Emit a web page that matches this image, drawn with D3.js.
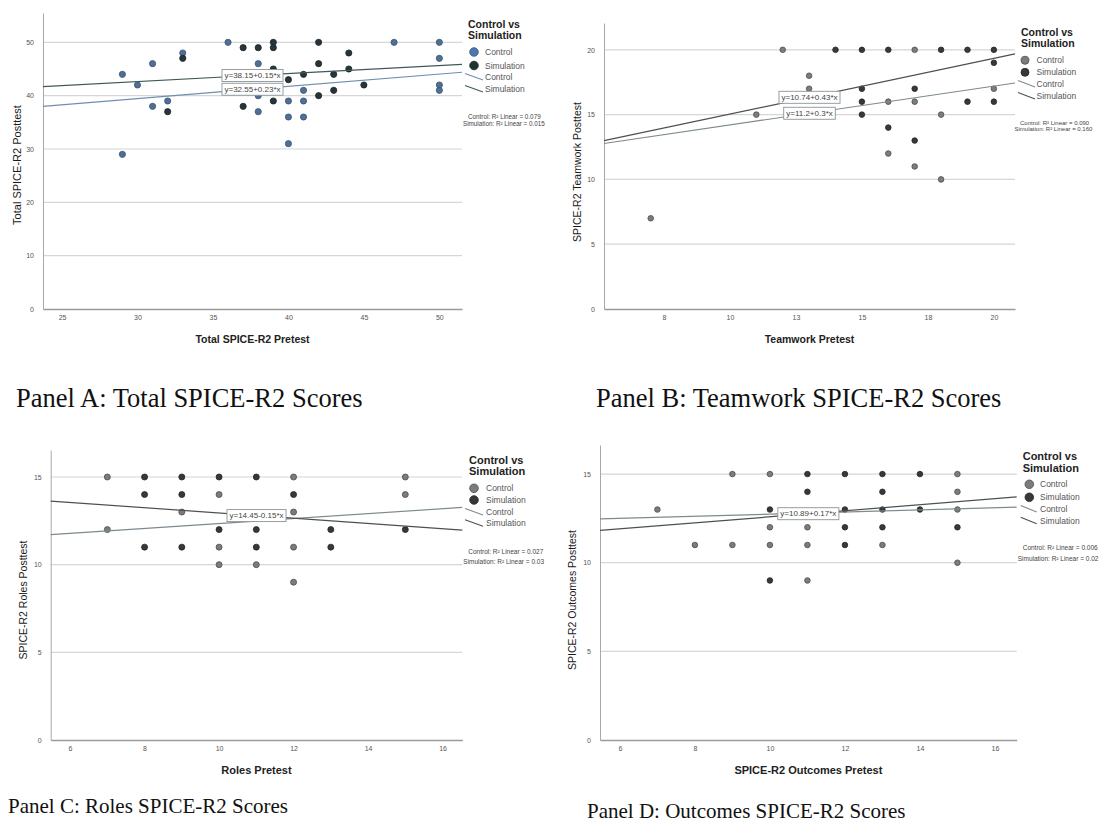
<!DOCTYPE html>
<html>
<head>
<meta charset="utf-8">
<script src="https://cdn.jsdelivr.net/npm/d3@7"></script>
<style>
  body { margin: 0; background: #fff; }
  svg text { font-family: "Liberation Sans", Arial, sans-serif; }
  svg text.caption { font-family: "Liberation Serif", "Times New Roman", serif; }
</style>
</head>
<body>
<div id="chart"></div>
<script>
// ---- data: [pretest, posttest] ----
const aControl = [[29,44],[29,29],[30,42],[31,46],[31,38],[32,39],[33,48],[36,50],[38,46],[38,40],[38,37],
  [40,39],[40,36],[40,31],[41,41],[41,39],[41,36],[47,50],[50,50],[50,47],[50,42],[50,41]];
const aSimulation = [[32,37],[33,47],[37,49],[37,38],[38,49],[39,50],[39,49],[39,45],[39,39],[40,43],
  [41,44],[42,50],[42,46],[42,40],[43,44],[43,41],[44,48],[44,45],[45,42]];

const bControl = [[7,7],[11,15],[12,20],[13,18],[13,17],[17,20],[16,16],[17,16],[20,17],[18,15],[16,12],[17,11],[18,10]];
const bSimulation = [[14,20],[15,20],[16,20],[18,20],[19,20],[20,20],[20,19],[15,17],[17,17],[15,16],
  [19,16],[20,16],[15,15],[16,14],[17,13]];

const cControl = [[7,15],[7,12],[9,13],[10,14],[10,11],[10,10],[11,10],[12,15],[12,13],[12,11],[12,9],[15,15],[15,14]];
const cSimulation = [[8,15],[8,14],[8,11],[9,15],[9,14],[9,11],[10,15],[10,12],[11,15],[11,12],[11,11],
  [12,14],[13,12],[13,11],[15,12]];

const dControl = [[7,13],[8,11],[9,15],[9,11],[10,15],[10,12],[10,11],[11,12],[11,11],[11,9],[13,11],
  [15,15],[15,14],[15,13],[15,10]];
const dSimulation = [[10,13],[10,9],[11,15],[11,14],[12,15],[12,13],[12,12],[12,11],[13,15],[13,14],
  [13,13],[13,12],[14,15],[14,13],[15,12]];

// fit lines: [intercept, slope]
const aFit = { control: [32.55, 0.23], simulation: [38.15, 0.15] };
const bFit = { control: [11.2, 0.3], simulation: [10.74, 0.43] };
const cFit = { control: [10.95, 0.14], simulation: [14.45, -0.15] };
const dFit = { control: [12.14, 0.06], simulation: [10.89, 0.17] };

// equation labels that are visible on each plot
const aLabels = [["simulation", "y=38.15+0.15*x"], ["control", "y=32.55+0.23*x"]];
const bLabels = [["simulation", "y=10.74+0.43*x"], ["control", "y=11.2+0.3*x"]];
const cLabels = [["simulation", "y=14.45-0.15*x"]];
const dLabels = [["simulation", "y=10.89+0.17*x"]];

const aR2 = ["Control: R\u00b2 Linear = 0.079", "Simulation: R\u00b2 Linear = 0.015"];
const bR2 = ["Control: R\u00b2 Linear = 0.090", "Simulation: R\u00b2 Linear = 0.160"];
const cR2 = ["Control: R\u00b2 Linear = 0.027", "Simulation: R\u00b2 Linear = 0.03"];
const dR2 = ["Control: R\u00b2 Linear = 0.006", "Simulation: R\u00b2 Linear = 0.02"];

// ticks
const aXTicks = [25, 30, 35, 40, 45, 50];
const aYTicks = [0, 10, 20, 30, 40, 50];
const bXTicks = [7.5, 10, 12.5, 15, 17.5, 20];
const bXTickLabels = ["8", "10", "13", "15", "18", "20"];
const bYTicks = [0, 5, 10, 15, 20];
const cdXTicks = [6, 8, 10, 12, 14, 16];
const cdYTicks = [0, 5, 10, 15];

const legendTitle = ["Control vs", "Simulation"];
const groupNames = ["Control", "Simulation"];

const svg = d3.select("#chart").append("svg")
  .attr("width", 1116)
  .attr("height", 833);

const defs = svg.append("defs");

function drawPanel(p) {
  defs.append("clipPath").attr("id", "clip" + p.id)
    .append("rect").attr("x", p.clip[0]).attr("y", p.clip[1]).attr("width", p.clip[2]).attr("height", p.clip[3]);
  const g = svg.append("g").attr("clip-path", `url(#clip${p.id})`);

  const x = d3.scaleLinear().domain(p.xDomain).range([p.left, p.right]);
  const y = d3.scaleLinear().domain(p.yDomain).range([p.bottom, p.top]);

  // grid
  g.append("g").selectAll("line")
    .data(p.yTicks.filter(d => d > 0))
    .join("line")
    .attr("x1", p.left).attr("x2", p.right)
    .attr("y1", d => y(d)).attr("y2", d => y(d))
    .attr("stroke", "#d6d6d6").attr("stroke-width", 1.2);

  // axes
  const yAxis = d3.axisLeft(y).tickValues(p.yTicks).tickSize(0).tickSizeOuter(0).tickPadding(9);
  const yg = g.append("g").attr("transform", `translate(${p.left},0)`).call(yAxis);
  yg.select(".domain").attr("stroke", "#a8a8a8");
  yg.selectAll("text").attr("font-size", 7).attr("fill", "#555");

  const xAxis = d3.axisBottom(x).tickValues(p.xTicks).tickSize(0).tickSizeOuter(0).tickPadding(6)
    .tickFormat((d, i) => p.xTickLabels ? p.xTickLabels[i] : d);
  const xg = g.append("g").attr("transform", `translate(0,${p.bottom})`).call(xAxis);
  xg.select(".domain").attr("stroke", "#9a9a9a").attr("stroke-width", 1.6);
  xg.selectAll("text").attr("font-size", 7).attr("fill", "#555");

  // points
  g.append("g").selectAll("circle")
    .data(p.control)
    .join("circle")
    .attr("cx", d => x(d[0])).attr("cy", d => y(d[1])).attr("r", p.r)
    .attr("fill", p.colors.control).attr("stroke", p.colors.controlStroke).attr("stroke-width", 0.8);
  g.append("g").selectAll("circle")
    .data(p.simulation)
    .join("circle")
    .attr("cx", d => x(d[0])).attr("cy", d => y(d[1])).attr("r", p.r)
    .attr("fill", p.colors.simulation).attr("stroke", p.colors.simulationStroke).attr("stroke-width", 0.8);

  // fit lines
  ["control", "simulation"].forEach(k => {
    const c = p.fit[k];
    g.append("path")
      .datum(p.xDomain)
      .attr("d", d3.line().x(d => x(d)).y(d => y(c[0] + c[1] * d)))
      .attr("fill", "none")
      .attr("stroke", p.colors[k + "Line"])
      .attr("stroke-width", 1.2);
  });

  // equation boxes at the middle of the x range
  const xm = (p.xDomain[0] + p.xDomain[1]) / 2;
  p.labels.forEach(([k, txt]) => {
    const c = p.fit[k];
    const cx = x(xm), cy = y(c[0] + c[1] * xm);
    const lg = g.append("g");
    const t = lg.append("text")
      .attr("x", cx).attr("y", cy)
      .attr("text-anchor", "middle").attr("dominant-baseline", "central")
      .attr("font-size", 8).attr("fill", "#444")
      .text(txt);
    const bb = t.node().getBBox();
    lg.insert("rect", "text")
      .attr("x", bb.x - 2.5).attr("y", cy - 6)
      .attr("width", bb.width + 5).attr("height", 12)
      .attr("fill", "#fff").attr("stroke", "#8a9498").attr("stroke-width", 0.9);
  });

  // legend
  const L = p.legend;
  g.append("g").selectAll("text")
    .data(legendTitle)
    .join("text")
    .attr("x", L.titleX).attr("y", (d, i) => L.titleY[i])
    .attr("dominant-baseline", "central")
    .attr("font-size", L.titleSize).attr("font-weight", "bold").attr("fill", "#222")
    .text(d => d);
  const markColors = [p.colors.legendControl, p.colors.legendSimulation];
  const markStrokes = [p.colors.controlStroke, p.colors.simulationStroke];
  g.append("g").selectAll("circle")
    .data(groupNames)
    .join("circle")
    .attr("cx", L.markX).attr("cy", (d, i) => L.markY[i]).attr("r", L.markR)
    .attr("fill", (d, i) => markColors[i]).attr("stroke", (d, i) => markStrokes[i]).attr("stroke-width", 0.8);
  g.append("g").selectAll("text")
    .data(groupNames)
    .join("text")
    .attr("x", L.textX).attr("y", (d, i) => L.markY[i])
    .attr("dominant-baseline", "central")
    .attr("font-size", L.itemSize).attr("fill", "#555")
    .text(d => d);
  const lineColors = [p.colors.controlLine, p.colors.simulationLine];
  g.append("g").selectAll("line")
    .data(groupNames)
    .join("line")
    .attr("x1", L.lineX[0]).attr("x2", L.lineX[1])
    .attr("y1", (d, i) => L.lineY[i] - 3.5).attr("y2", (d, i) => L.lineY[i] + 3)
    .attr("stroke", (d, i) => lineColors[i]).attr("stroke-width", 1.1);
  g.append("g").selectAll("text")
    .data(groupNames)
    .join("text")
    .attr("x", L.lineTextX).attr("y", (d, i) => L.lineY[i])
    .attr("dominant-baseline", "central")
    .attr("font-size", L.itemSize).attr("fill", "#555")
    .text(d => d);

  // R squared notes
  g.append("g").selectAll("text")
    .data(p.r2)
    .join("text")
    .attr("x", (d, i) => p.r2Pos.x[i]).attr("y", (d, i) => p.r2Pos.y[i])
    .attr("dominant-baseline", "central")
    .attr("font-size", p.r2Pos.size).attr("fill", "#444")
    .text(d => d);

  // axis titles
  g.append("text")
    .attr("x", (p.left + p.right) / 2).attr("y", p.xTitleY)
    .attr("text-anchor", "middle").attr("dominant-baseline", "central")
    .attr("font-size", p.xTitleSize).attr("font-weight", "bold").attr("fill", "#222")
    .text(p.xTitle);
  g.append("text")
    .attr("transform", `translate(${p.yTitleX},${p.yTitleY}) rotate(-90)`)
    .attr("text-anchor", "middle").attr("dominant-baseline", "central")
    .attr("font-size", p.yTitleSize).attr("fill", "#1a1a1a")
    .text(p.yTitle);

  // panel caption
  svg.append("text")
    .attr("class", "caption")
    .attr("x", p.caption[0]).attr("y", p.caption[1])
    .attr("font-size", p.captionSize).attr("fill", "#111")
    .text(p.caption[2]);
}

const blueColors = {
  control: "#4f6f97", controlStroke: "#3b5474",
  simulation: "#27343a", simulationStroke: "#1c262a",
  legendControl: "#4a78b3", legendSimulation: "#1f3530",
  controlLine: "#6f8fb0", simulationLine: "#41575a"
};
const grayColors = {
  control: "#7c7c7c", controlStroke: "#4d4d4d",
  simulation: "#383838", simulationStroke: "#262626",
  legendControl: "#7c7c7c", legendSimulation: "#383838",
  controlLine: "#7d8a90", simulationLine: "#4f4f4f"
};

drawPanel({
  id: "A", clip: [0, 0, 556, 380],
  left: 43, right: 462, top: 13, bottom: 309,
  xDomain: [23.74, 51.5], yDomain: [0, 55.5],
  xTicks: aXTicks, yTicks: aYTicks,
  control: aControl, simulation: aSimulation, fit: aFit, labels: aLabels, r2: aR2,
  r: 3.1, colors: blueColors,
  legend: { titleX: 468, titleY: [24, 35], titleSize: 10.5, markX: 474, markY: [52, 65.5], markR: 4.3,
    textX: 485, lineX: [465, 483], lineY: [77, 89], lineTextX: 485, itemSize: 8.5 },
  r2Pos: { x: [468, 463], y: [116.5, 123.8], size: 6.3 },
  xTitle: "Total SPICE-R2 Pretest", xTitleY: 339, xTitleSize: 10.5,
  yTitle: "Total SPICE-R2 Posttest", yTitleX: 17, yTitleY: 165, yTitleSize: 11,
  caption: [16, 407, "Panel A: Total SPICE-R2 Scores"], captionSize: 26.5
});

drawPanel({
  id: "B", clip: [556, 0, 560, 380],
  left: 604, right: 1015, top: 23, bottom: 309,
  xDomain: [5.23, 20.8], yDomain: [0, 22.07],
  xTicks: bXTicks, xTickLabels: bXTickLabels, yTicks: bYTicks,
  control: bControl, simulation: bSimulation, fit: bFit, labels: bLabels, r2: bR2,
  r: 2.8, colors: grayColors,
  legend: { titleX: 1021, titleY: [32, 43.3], titleSize: 10.5, markX: 1025, markY: [60.3, 72.3], markR: 4,
    textX: 1036.5, lineX: [1018, 1035], lineY: [84, 96], lineTextX: 1036.5, itemSize: 8.5 },
  r2Pos: { x: [1020, 1014.5], y: [122.7, 129], size: 6 },
  xTitle: "Teamwork Pretest", xTitleY: 339, xTitleSize: 10.5,
  yTitle: "SPICE-R2 Teamwork Posttest", yTitleX: 577, yTitleY: 172, yTitleSize: 10.5,
  caption: [596, 407, "Panel B: Teamwork SPICE-R2 Scores"], captionSize: 26.5
});

drawPanel({
  id: "C", clip: [0, 420, 560, 413],
  left: 50.7, right: 462.3, top: 450, bottom: 740,
  xDomain: [5.48, 16.53], yDomain: [0, 16.54],
  xTicks: cdXTicks, yTicks: cdYTicks,
  control: cControl, simulation: cSimulation, fit: cFit, labels: cLabels, r2: cR2,
  r: 3, colors: grayColors,
  legend: { titleX: 469, titleY: [460, 471.3], titleSize: 11, markX: 474, markY: [488.3, 500], markR: 4.3,
    textX: 486, lineX: [465, 483], lineY: [512, 523.3], lineTextX: 486, itemSize: 8.5 },
  r2Pos: { x: [468.3, 463.3], y: [551.7, 561], size: 6.5 },
  xTitle: "Roles Pretest", xTitleY: 770, xTitleSize: 11,
  yTitle: "SPICE-R2 Roles Posttest", yTitleX: 22.7, yTitleY: 600, yTitleSize: 10.5,
  caption: [8, 813, "Panel C: Roles SPICE-R2 Scores"], captionSize: 21
});

drawPanel({
  id: "D", clip: [560, 420, 556, 413],
  left: 600, right: 1016.7, top: 445, bottom: 740,
  xDomain: [5.47, 16.58], yDomain: [0, 16.64],
  xTicks: cdXTicks, yTicks: cdYTicks,
  control: dControl, simulation: dSimulation, fit: dFit, labels: dLabels, r2: dR2,
  r: 2.8, colors: grayColors,
  legend: { titleX: 1022.7, titleY: [456, 467.7], titleSize: 11, markX: 1029.3, markY: [484.3, 497.3], markR: 4.3,
    textX: 1040, lineX: [1020.7, 1036.7], lineY: [509, 520.7], lineTextX: 1040, itemSize: 8.5 },
  r2Pos: { x: [1022.7, 1017.7], y: [547.7, 558.3], size: 6.5 },
  xTitle: "SPICE-R2 Outcomes Pretest", xTitleY: 770, xTitleSize: 11,
  yTitle: "SPICE-R2 Outcomes Posttest", yTitleX: 571.7, yTitleY: 600, yTitleSize: 10.5,
  caption: [587, 818, "Panel D: Outcomes SPICE-R2 Scores"], captionSize: 21
});
</script>
</body>
</html>
